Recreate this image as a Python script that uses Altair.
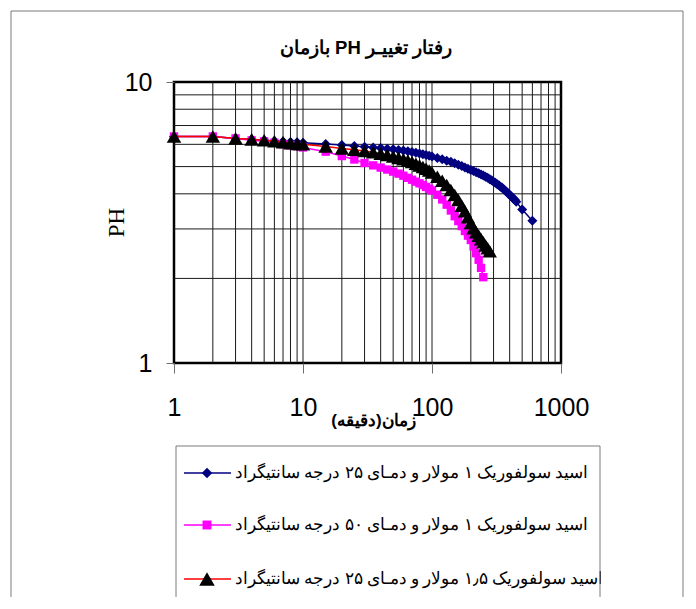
import altair as alt
import pandas as pd

# ---------------- data ----------------
t_blue = [1, 2, 3, 4, 5, 6, 7, 8, 9, 10, 15, 20, 25, 30, 35, 40, 45, 50, 55, 60, 65, 70, 75, 80, 85, 90, 95, 100,
          110, 120, 130, 140, 150, 160, 170, 180, 190, 200, 210, 220, 230, 240, 250, 260, 270, 280, 290, 300,
          310, 320, 330, 340, 350, 360, 370, 380, 390, 400, 410, 420, 430, 440, 450, 500, 600]
ph_blue = [6.4, 6.4, 6.3, 6.25, 6.2, 6.17, 6.14, 6.12, 6.1, 6.08, 6.02, 5.97, 5.92, 5.88, 5.85, 5.82, 5.79, 5.76,
           5.73, 5.7, 5.67, 5.63, 5.6, 5.57, 5.53, 5.5, 5.46, 5.43,
           5.37, 5.31, 5.25, 5.2, 5.14, 5.08, 5.02, 4.96, 4.91, 4.86, 4.82, 4.77, 4.73, 4.69, 4.65, 4.6, 4.56,
           4.51, 4.47, 4.42, 4.38, 4.33, 4.29, 4.24, 4.2, 4.15, 4.1, 4.06, 4.01, 3.96, 3.92, 3.88, 3.84, 3.8,
           3.75, 3.52, 3.21]

t_mag = [1, 2, 3, 4, 5, 6, 7, 8, 9, 10, 15, 20, 25, 30, 35, 40, 45, 50, 55, 60, 65, 70, 75, 80, 85, 90, 95, 100,
         110, 120, 130, 140, 150, 160, 170, 180, 190, 200, 210, 220, 230, 240, 250]
ph_mag = [6.4, 6.4, 6.3, 6.2, 6.15, 6.08, 6.0, 5.95, 5.9, 5.85, 5.65, 5.45, 5.3, 5.15, 5.05, 4.96, 4.88, 4.8,
          4.72, 4.64, 4.56, 4.49, 4.42, 4.36, 4.3, 4.23, 4.17, 4.11,
          3.97, 3.82, 3.66, 3.49, 3.33, 3.2, 3.07, 2.95, 2.84, 2.74, 2.6, 2.46, 2.33, 2.18, 2.02]

t_tri = [1, 2, 3, 4, 5, 6, 7, 8, 9, 10, 15, 20, 25, 30, 35, 40, 45, 50, 55, 60, 65, 70, 75, 80, 85, 90, 95, 100,
         110, 120, 130, 140, 150, 160, 170, 180, 190, 200, 210, 220, 230, 240, 250, 260, 270, 280]
ph_tri = [6.4, 6.4, 6.3, 6.25, 6.2, 6.15, 6.1, 6.05, 6.02, 6.0, 5.9, 5.8, 5.74, 5.68, 5.62, 5.56, 5.5, 5.43,
          5.37, 5.31, 5.25, 5.19, 5.12, 5.05, 4.98, 4.91, 4.84, 4.76,
          4.6, 4.45, 4.3, 4.13, 3.96, 3.8, 3.63, 3.47, 3.3, 3.15, 3.02, 2.92, 2.84, 2.76, 2.69, 2.62, 2.56, 2.5]

legend_labels = [
    "اسید سولفوریک ۱ مولار و دمـای ۲۵ درجه سانتیگراد",
    "اسید سولفوریک ۱ مولار و دمـای ۵۰ درجه سانتیگراد",
    "اسید سولفوریک ۱٫۵ مولار و دمـای ۲۵ درجه سانتیگراد",
]
chart_title = "رفتار تغییـر PH بازمان"
x_title = "زمان(دقیقه)"
y_title = "PH"

x_ticks = [1, 10, 100, 1000]
y_ticks = [1, 10]
x_grid = [2, 3, 4, 5, 6, 7, 8, 9, 10, 20, 30, 40, 50, 60, 70, 80, 90, 100, 200, 300, 400, 500, 600, 700, 800, 900]
y_grid = [2, 3, 4, 5, 6, 7, 8, 9]

RLE, PDF = "\u202b", "\u202c"

# ---------------- scales / axes ----------------
xscale = alt.Scale(type="log", domain=[1, 1000], nice=False)
yscale = alt.Scale(type="log", domain=[1, 10], nice=False)

xaxis = alt.Axis(values=x_ticks, format="d", grid=False, domain=False, ticks=True, tickSize=10,
                 tickColor="#6e6e6e", tickWidth=1, labelFont="Liberation Sans", labelFontSize=25,
                 labelColor="black", labelPadding=22, labelFlush=False, labelOverlap=False,
                 title=RLE + x_title + PDF, titleFont="Liberation Sans", titleFontSize=17,
                 titleFontWeight="bold", titleColor="black", titleX=199, titleY=57,
                 titleAlign="center", titleBaseline="middle")
yaxis = alt.Axis(values=y_ticks, format="d", grid=False, domain=False, ticks=True, tickSize=8,
                 tickColor="#6e6e6e", tickWidth=1, labelFont="Liberation Sans", labelFontSize=25,
                 labelColor="black", labelPadding=14, labelOverlap=False,
                 title=y_title, titleFont="Liberation Serif", titleFontSize=23, titleFontWeight="normal",
                 titleColor="black", titleX=-58, titleY=140, titleAngle=270, titleAlign="center",
                 titleBaseline="middle")

one = pd.DataFrame({"k": [0]})

# outer chart frame
outer = alt.Chart(one).mark_rect(fillOpacity=0, stroke="#7a7a7a", strokeWidth=1).encode(
    x=alt.value(-163), x2=alt.value(509), y=alt.value(-71), y2=alt.value(640))

# chart title
title_layer = alt.Chart(pd.DataFrame({"title": [RLE + chart_title + PDF]})).mark_text(
    align="center", baseline="alphabetic", font="Liberation Sans", fontSize=18.5, fontWeight="bold",
    color="black").encode(x=alt.value(192), y=alt.value(-28), text="title:N")

# grid
vgrid = alt.Chart(pd.DataFrame({"v": x_grid})).mark_rule(color="#1a1a1a", strokeWidth=1).encode(
    x=alt.X("v:Q", scale=xscale, axis=xaxis))
hgrid = alt.Chart(pd.DataFrame({"h": y_grid})).mark_rule(color="#1a1a1a", strokeWidth=1).encode(
    y=alt.Y("h:Q", scale=yscale, axis=yaxis))


def series(t, ph, line_color, shape, fill, size):
    df = pd.DataFrame({"t": t, "ph": ph})
    enc = dict(x=alt.X("t:Q", scale=xscale, axis=xaxis), y=alt.Y("ph:Q", scale=yscale, axis=yaxis))
    line = alt.Chart(df).mark_line(color=line_color, strokeWidth=1.5).encode(**enc)
    pts = alt.Chart(df).mark_point(shape=shape, filled=True, color=fill, size=size, opacity=1).encode(**enc)
    return [line, pts]


layers = [outer, title_layer, vgrid, hgrid]
layers += series(t_blue, ph_blue, "#000080", "diamond", "#000080", 100)
layers += series(t_mag, ph_mag, "#ff00ff", "square", "#ff00ff", 70)
layers += series(t_tri, ph_tri, "#ff0000", "triangle-up", "#000000", 210)

# legend (drawn below the plot)
legend_style = [("#000080", "diamond", "#000080", 110),
                ("#ff00ff", "square", "#ff00ff", 80),
                ("#ff0000", "triangle-up", "#000000", 240)]
legend_y = [391, 443, 497]
for label, (lc, shp, fc, sz), ly in zip(legend_labels, legend_style, legend_y):
    d = pd.DataFrame({"label": [RLE + label + PDF]})
    layers.append(alt.Chart(d).mark_rule(color=lc, strokeWidth=1.5).encode(
        x=alt.value(10), x2=alt.value(57), y=alt.value(ly), y2=alt.value(ly)))
    layers.append(alt.Chart(d).mark_point(shape=shp, filled=True, color=fc, size=sz, opacity=1).encode(
        x=alt.value(33), y=alt.value(ly)))
    layers.append(alt.Chart(d).mark_text(align="left", baseline="middle", font="Liberation Serif",
                                         fontSize=17.1, color="black").encode(
        x=alt.value(61), y=alt.value(ly), text="label:N"))

# legend clips its own text at its right edge
legend_clip = alt.Chart(one).mark_rect(color="white").encode(
    x=alt.value(427), x2=alt.value(470), y=alt.value(370), y2=alt.value(520))
legend_box = alt.Chart(one).mark_rect(fillOpacity=0, stroke="#7a7a7a", strokeWidth=1).encode(
    x=alt.value(2), x2=alt.value(426), y=alt.value(364), y2=alt.value(526))
layers += [legend_clip, legend_box]

chart = alt.layer(*layers).properties(
    width=387, height=281,
    autosize=alt.AutoSizeParams(type="none"),
    padding={"left": 166, "top": 74, "right": 127, "bottom": 234},
).configure_view(stroke="black", strokeWidth=2.5)

chart.save("out.html", embed_options={"renderer": "svg", "actions": False})
